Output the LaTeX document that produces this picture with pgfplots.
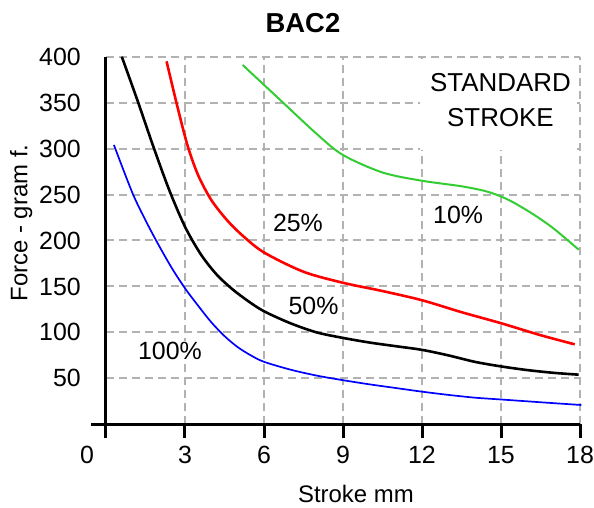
\documentclass[border=0pt]{standalone}
\usepackage{fontspec}
\setmainfont{Liberation Sans}
\usepackage{pgfplots}
\pgfplotsset{compat=1.18}
\definecolor{cgreen}{RGB}{51,204,51}
\definecolor{cgrid}{RGB}{178,178,178}
\begin{document}
\begin{tikzpicture}
\useasboundingbox (-106bp,-83.7bp) rectangle (488bp,424.3bp);
\begin{axis}[
  at={(0bp,0bp)}, anchor=south west,
  scale only axis, width=474bp, height=367.6bp,
  xmin=0, xmax=18, ymin=0, ymax=400,
  clip=false,
  axis x line*=bottom, axis y line*=left,
  axis line style={line width=3bp, black, -},
  xtick={0,3,...,18}, xticklabels={,3,6,9,12,15,18},
  ytick={50,100,...,400},
  tick align=outside, major tick length=14bp,
  xtick style={line width=3bp, black},
  ytick style={draw=none},
  grid=major,
  grid style={cgrid, line width=2bp, dash pattern=on 8bp off 5bp},
  /pgf/number format/assume math mode=true,
  xticklabel style={font=\fontsize{25}{30}\selectfont, inner sep=0pt, anchor=north, yshift=-8bp},
  yticklabel style={font=\fontsize{25}{30}\selectfont, inner sep=0pt, anchor=east, xshift=-11bp},
]
% white box behind the note
\fill[white] (axis cs:11.93,298) rectangle (axis cs:17.9,397);
\addplot[blue, line width=1.7bp, smooth] coordinates {
(0.3,304) (1.0,252) (1.5,222) (2.0,195) (2.5,170) (3.0,148) (3.5,129) (4.0,111) (4.5,96) (5.0,84) (5.5,75) (6,68) (7,59.5) (8,53) (9,48) (10,43.5) (11,39.5) (12,35.5) (13,32) (14,29) (15,27) (16,25) (17,23) (18.05,21)};
\addplot[black, line width=2.6bp, smooth] coordinates {
(0.6,400) (1.2,352) (1.8,302) (2.4,255) (3.0,215) (3.6,185) (4.2,163) (4.8,147) (5.4,134) (6,123) (7,110) (8,100) (9,94) (10,89) (11,85) (12,81) (13,75) (14,68) (15,63) (16,59) (17,56) (17.95,54)};
\addplot[red, line width=2.6bp, smooth] coordinates {
(2.3,395) (2.7,347) (3.1,303) (3.5,271) (4.0,244) (4.6,222) (5.2,205) (6,187) (7.5,166) (9,154) (10.5,145) (12,135) (13.5,122) (15,110) (16.5,97) (17.8,87)};
\addplot[cgreen, line width=2bp, smooth] coordinates {
(5.19,391) (6.5,356) (8,316) (9,293) (10.5,274) (12,265) (13.5,259) (14.5,253) (15.3,244) (16.2,229) (17,213) (17.95,190)};
% x axis extension and the 0 label
\draw[line width=3bp, black] (axis cs:-0.575,0) -- (axis cs:0,0);
\node[font=\fontsize{25}{30}\selectfont, inner sep=0pt, anchor=north, yshift=-22bp] at (axis cs:-0.72,0) {0};
% curve labels
\node[font=\fontsize{25}{30}\selectfont, fill=white, inner sep=1bp] at (axis cs:2.43,79.8) {100\%};
\node[font=\fontsize{25}{30}\selectfont, inner sep=1bp] at (axis cs:7.29,219.6) {25\%};
\node[font=\fontsize{25}{30}\selectfont, inner sep=1bp] at (axis cs:7.88,128.7) {50\%};
\node[font=\fontsize{25}{30}\selectfont, inner sep=1bp] at (axis cs:13.37,228.3) {10\%};
\node[font=\fontsize{26}{30}\selectfont, inner sep=0pt] at (axis cs:14.98,371.7) {STANDARD};
\node[font=\fontsize{26}{30}\selectfont, inner sep=0pt] at (axis cs:14.98,333.3) {STROKE};
% title and axis labels
\node[font=\bfseries\fontsize{27.5}{32}\selectfont, inner sep=0pt] at (axis cs:7.48,436.7) {BAC2};
\node[font=\fontsize{24}{30}\selectfont, inner sep=0pt] at (axis cs:9.49,-76) {Stroke mm};
\node[font=\fontsize{24}{30}\selectfont, inner sep=0pt, rotate=90] at (axis cs:-3.22,219) {Force - gram f.};
\end{axis}
\end{tikzpicture}
\end{document}
